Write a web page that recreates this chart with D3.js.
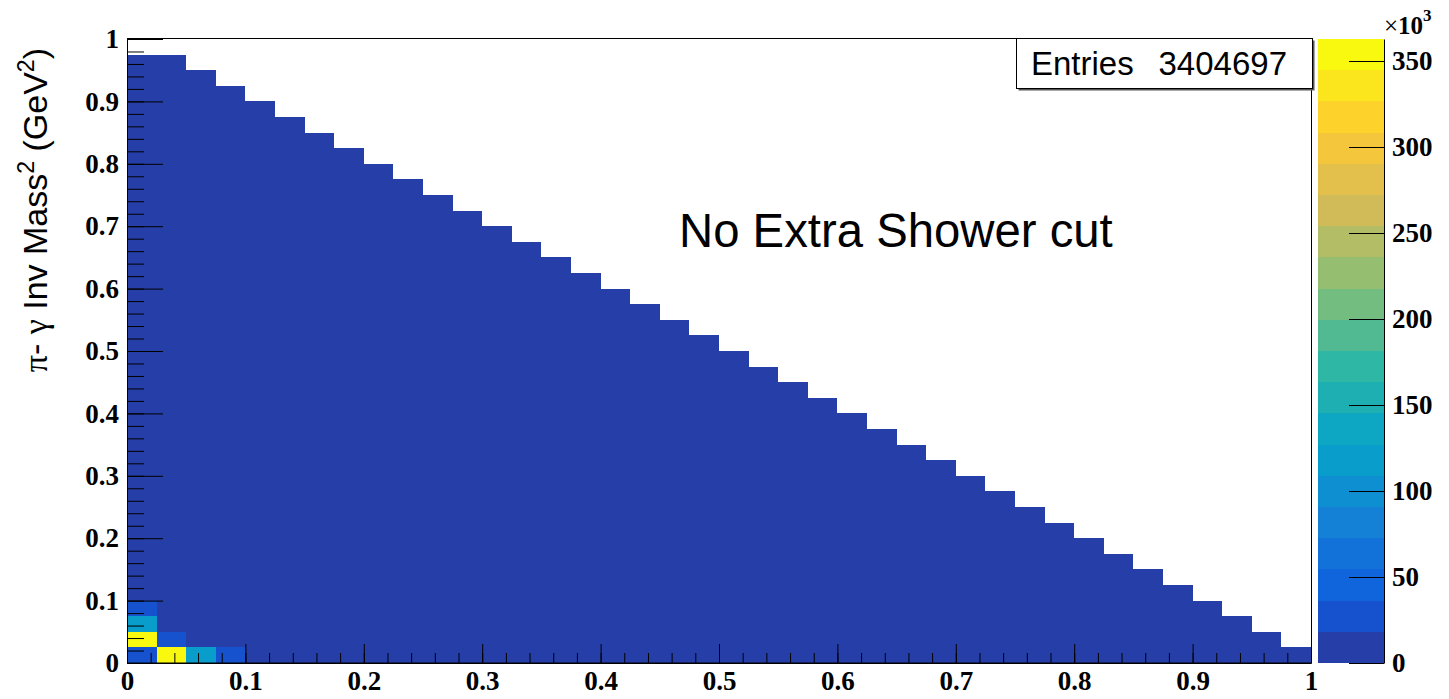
<!DOCTYPE html>
<html><head><meta charset="utf-8">
<script src="https://cdn.jsdelivr.net/npm/d3@7"></script>
<style>body{margin:0;background:#fff;} svg{display:block;}</style>
</head><body><svg id="c" width="1449" height="699"></svg>
<script>
// ---- data ----
const binWidth = 0.025;
// upper edge of the filled region for each x bin (40 bins, 0..1)
const colTops = [0.975,0.975,0.95,0.925,0.9,0.875,0.85,0.825,0.8,0.775,
                 0.75,0.725,0.7,0.675,0.65,0.625,0.6,0.575,0.55,0.525,
                 0.5,0.475,0.45,0.425,0.4,0.375,0.35,0.325,0.3,0.275,
                 0.25,0.225,0.2,0.175,0.15,0.125,0.1,0.075,0.05,0.025];
// high-count cells near the origin (lower bin edges, content)
const hotX = [0, 0, 0, 0, 0.025, 0.025, 0.05, 0.075];
const hotY = [0, 0.025, 0.05, 0.075, 0, 0.025, 0, 0];
const hotV = [28000, 355000, 120000, 27000, 362800, 26000, 118000, 25000];
const bulkValue = 3000;   // typical content of all other filled cells
const zMax = 362800;
const xTicks = [0,0.1,0.2,0.3,0.4,0.5,0.6,0.7,0.8,0.9,1];
const xTickLabels = ["0","0.1","0.2","0.3","0.4","0.5","0.6","0.7","0.8","0.9","1"];
const yTicks = [0,0.1,0.2,0.3,0.4,0.5,0.6,0.7,0.8,0.9,1];
const yTickLabels = ["0","0.1","0.2","0.3","0.4","0.5","0.6","0.7","0.8","0.9","1"];
const zTicks = [0,50000,100000,150000,200000,250000,300000,350000];
const zTickLabels = ["0","50","100","150","200","250","300","350"];
const entriesLabel = "Entries";
const entriesValue = "3404697";
const annotation = "No Extra Shower cut";

// ---- layout ----
const L = 127, R = 1311, T = 39, B = 663;
const CBL = 1318, CBR = 1384;
const svg = d3.select("#c");
const x = d3.scaleLinear([0, 1], [L, R]);
const y = d3.scaleLinear([0, 1], [B, T]);
const z = d3.scaleLinear([0, zMax], [B, T]);

// ROOT kBird palette (255 colours)
const stops = [0.0,0.125,0.25,0.375,0.5,0.625,0.75,0.875,1.0];
const red   = [0.2082,0.0592,0.0780,0.0232,0.1802,0.5301,0.8186,0.9956,0.9764];
const green = [0.1664,0.3599,0.5041,0.6419,0.7178,0.7492,0.7328,0.7862,0.9832];
const blue  = [0.5293,0.8684,0.8385,0.7914,0.6425,0.4662,0.3499,0.1968,0.0539];
const pal = [];
for (let g = 1; g < stops.length; g++) {
  const n = Math.floor(255*stops[g]) - Math.floor(255*stops[g-1]);
  for (let c = 0; c < n; c++) {
    pal.push(d3.rgb(255*(red[g-1] + c*(red[g]-red[g-1])/n),
                    255*(green[g-1] + c*(green[g]-green[g-1])/n),
                    255*(blue[g-1] + c*(blue[g]-blue[g-1])/n)).formatHex());
  }
}
const nLev = 20;
const levelColor = d3.range(nLev).map(k => pal[Math.floor((k+0.99)*pal.length/nLev)]);
const colorOf = v => levelColor[Math.min(nLev-1, Math.floor(v/zMax*nLev))];

// build cells
const cells = [];
colTops.forEach((top, i) => {
  const x0 = i*binWidth;
  for (let j = 0; (j+1)*binWidth <= top + 1e-9; j++) {
    const y0 = j*binWidth;
    let v = bulkValue;
    hotX.forEach((hx, k) => { if (Math.abs(hx-x0) < 1e-9 && Math.abs(hotY[k]-y0) < 1e-9) v = hotV[k]; });
    cells.push({x0, y0, v});
  }
});

svg.append("g").attr("shape-rendering", "crispEdges")
  .selectAll("rect").data(cells).join("rect")
  .attr("x", d => Math.round(x(d.x0)))
  .attr("width", d => Math.round(x(d.x0+binWidth)) - Math.round(x(d.x0)))
  .attr("y", d => Math.round(y(d.y0+binWidth)))
  .attr("height", d => Math.round(y(d.y0)) - Math.round(y(d.y0+binWidth)))
  .attr("fill", d => colorOf(d.v));

// frame
svg.append("rect").attr("x", L+0.5).attr("y", T-0.5).attr("width", R-L).attr("height", B-T+0.5)
  .attr("fill", "none").attr("stroke", "#000").attr("stroke-width", 1);

const numFont = "'Liberation Serif', 'Times New Roman', serif";
const txtFont = "'Liberation Sans', Arial, Helvetica, sans-serif";
const minor = (a, b, step) => { const r = []; for (let v = a; v <= b + 1e-9; v += step) r.push(+v.toFixed(4)); return r; };

function styleAxis(g) {
  g.select(".domain").attr("stroke", "#000");
  g.selectAll(".tick line").attr("stroke", "#000");
  g.selectAll("text").attr("font-family", numFont).attr("font-weight", "bold")
    .attr("font-size", 27).attr("fill", "#000");
}
// x axis
const gx = svg.append("g").attr("transform", `translate(0,${B})`);
gx.call(d3.axisBottom(x).tickValues(xTicks).tickFormat((d,i) => xTickLabels[i])
  .tickSize(-19).tickSizeOuter(0).tickPadding(8)).call(styleAxis);
svg.append("g").attr("transform", `translate(0,${B})`)
  .call(d3.axisBottom(x).tickValues(minor(0,1,0.02)).tickFormat("").tickSize(-10).tickSizeOuter(0))
  .call(g => { g.select(".domain").remove(); g.selectAll("line").attr("stroke", "#000"); });
// y axis
const gy = svg.append("g").attr("transform", `translate(${L},0)`);
gy.call(d3.axisLeft(y).tickValues(yTicks).tickFormat((d,i) => yTickLabels[i])
  .tickSize(-36).tickSizeOuter(0).tickPadding(8)).call(styleAxis);
svg.append("g").attr("transform", `translate(${L},0)`)
  .call(d3.axisLeft(y).tickValues(minor(0,1,0.02)).tickFormat("").tickSize(-17).tickSizeOuter(0))
  .call(g => { g.select(".domain").remove(); g.selectAll("line").attr("stroke", "#000"); });

// colour bar
svg.append("g").attr("shape-rendering", "crispEdges")
  .selectAll("rect").data(d3.range(nLev)).join("rect")
  .attr("x", CBL).attr("width", CBR-CBL)
  .attr("y", k => Math.round(z((k+1)*zMax/nLev)))
  .attr("height", k => Math.round(z(k*zMax/nLev)) - Math.round(z((k+1)*zMax/nLev)))
  .attr("fill", k => levelColor[k]);
const gz = svg.append("g").attr("transform", `translate(${CBR},0)`);
gz.call(d3.axisRight(z).tickValues(zTicks).tickFormat((d,i) => zTickLabels[i])
  .tickSize(-35).tickSizeOuter(0).tickPadding(8)).call(styleAxis);
const mult = svg.append("text").attr("x", 1384).attr("y", 34)
  .attr("font-family", numFont).attr("font-weight", "bold").attr("font-size", 25).attr("fill", "#000");
mult.append("tspan").attr("font-weight", "normal").text("\u00d7");
mult.append("tspan").text("10");
mult.append("tspan").attr("dy", -13).attr("font-size", 17).text("3");

// y title
const yt = svg.append("text").attr("transform", `translate(47,48) rotate(-90)`)
  .attr("text-anchor", "end").attr("font-family", txtFont).attr("font-size", 34).attr("fill", "#000");
yt.append("tspan").attr("font-family", numFont).text("\u03c0");
yt.append("tspan").text("- ");
yt.append("tspan").attr("font-family", numFont).text("\u03b3");
yt.append("tspan").text(" Inv Mass");
yt.append("tspan").attr("dy", -13).attr("font-size", 23).text("2");
yt.append("tspan").attr("dy", 13).text(" (GeV");
yt.append("tspan").attr("dy", -13).attr("font-size", 23).text("2");
yt.append("tspan").attr("dy", 13).text(")");

// stats box
svg.append("rect").attr("x", 1018.5).attr("y", 40.5).attr("width", 296).attr("height", 50).attr("fill", "#555");
svg.append("rect").attr("x", 1016.5).attr("y", 38.5).attr("width", 296).attr("height", 50)
  .attr("fill", "#fff").attr("stroke", "#000").attr("stroke-width", 1);
svg.append("text").attr("x", 1031).attr("y", 75).attr("font-family", txtFont).attr("font-size", 33)
  .attr("fill", "#000").text(entriesLabel);
svg.append("text").attr("x", 1287).attr("y", 75).attr("text-anchor", "end").attr("font-family", txtFont)
  .attr("font-size", 33).attr("fill", "#000").text(entriesValue);

// annotation
svg.append("text").attr("x", 679).attr("y", 247).attr("font-family", txtFont).attr("font-size", 47.3)
  .attr("fill", "#000").text(annotation);
</script>
</body></html>
